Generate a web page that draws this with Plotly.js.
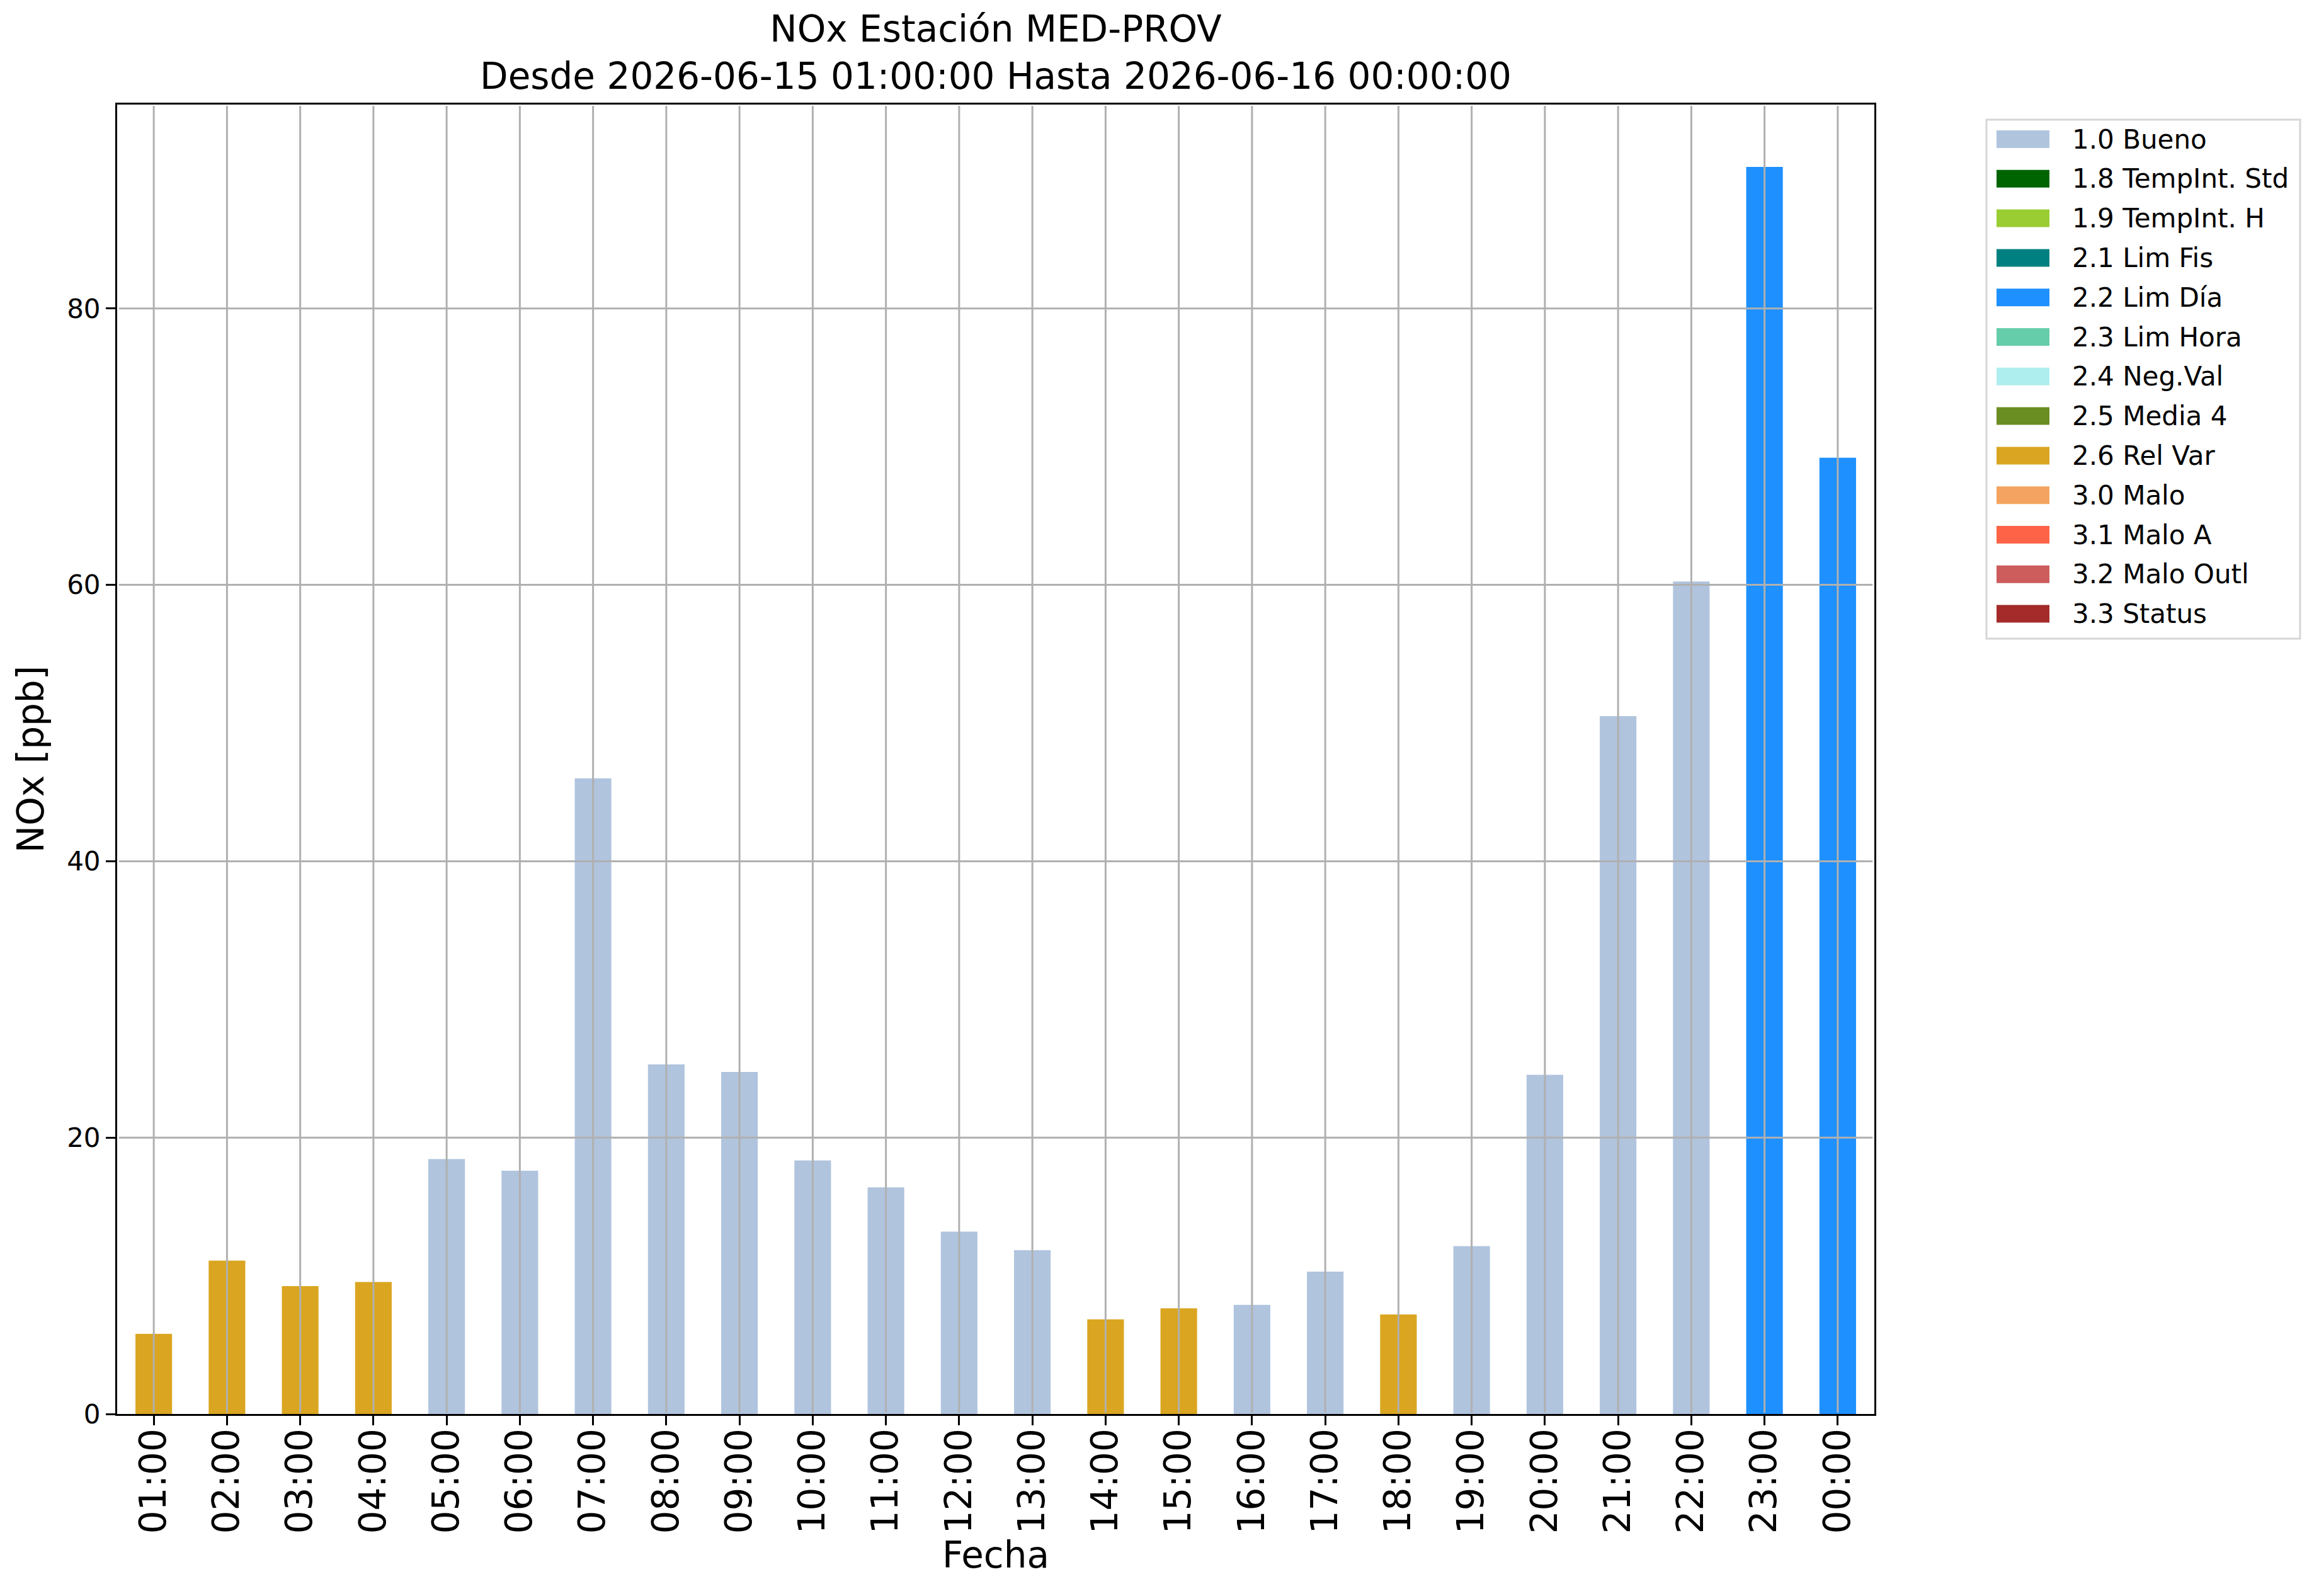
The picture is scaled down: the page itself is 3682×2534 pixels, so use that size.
<!DOCTYPE html>
<html>
<head>
<meta charset="utf-8">
<script src="https://cdn.plot.ly/plotly-3.0.1.min.js"></script>
<style>
  html, body { margin: 0; padding: 0; background: #ffffff; }
  #chart { width: 3682px; height: 2534px; }
</style>
</head>
<body>
<div id="chart"></div>
<script>
// hourly NOx values, 2026-06-15 01:00 .. 2026-06-16 00:00
const hours = ['01:00', '02:00', '03:00', '04:00', '05:00', '06:00', '07:00', '08:00',
               '09:00', '10:00', '11:00', '12:00', '13:00', '14:00', '15:00', '16:00',
               '17:00', '18:00', '19:00', '20:00', '21:00', '22:00', '23:00', '00:00'];
const noxValues = [5.8, 11.1, 9.25, 9.55, 18.45, 17.6, 46.0, 25.3,
                   24.75, 18.35, 16.4, 13.2, 11.85, 6.85, 7.65, 7.9,
                   10.3, 7.2, 12.15, 24.55, 50.5, 60.25, 90.25, 69.2];
const flagCodes = ['2.6', '2.6', '2.6', '2.6', '1.0', '1.0', '1.0', '1.0',
                   '1.0', '1.0', '1.0', '1.0', '1.0', '2.6', '2.6', '1.0',
                   '1.0', '2.6', '1.0', '1.0', '1.0', '1.0', '2.2', '2.2'];

// validation flags (legend)
const flagKeys = ['1.0', '1.8', '1.9', '2.1', '2.2', '2.3', '2.4', '2.5', '2.6', '3.0', '3.1', '3.2', '3.3'];
const flagLabels = ['1.0 Bueno', '1.8 TempInt. Std', '1.9 TempInt. H', '2.1 Lim Fis', '2.2 Lim Día',
                    '2.3 Lim Hora', '2.4 Neg.Val', '2.5 Media 4', '2.6 Rel Var', '3.0 Malo',
                    '3.1 Malo A', '3.2 Malo Outl', '3.3 Status'];
const flagColors = ['#B0C4DE', '#006400', '#9ACD32', '#008080', '#1E90FF', '#66CDAA', '#AFEEEE',
                    '#6B8E23', '#DAA520', '#F4A460', '#FF6347', '#CD5C5C', '#A52A2A'];

const yTicks = [0, 20, 40, 60, 80];

// plot box in page pixels
const W = 3682, H = 2534;
const plotL = 186, plotR = 2976, plotT = 166, plotB = 2245;
const pw = plotR - plotL, ph = plotB - plotT;
const px = v => (v - plotL) / pw;
const py = v => (plotB - v) / ph;

const FONT = 'DejaVu Sans';
const GRID = '#b0b0b0';

// one bar trace per flag
const traces = flagKeys.map((key, i) => ({
    type: 'bar',
    name: flagLabels[i],
    x: hours,
    y: noxValues.map((v, j) => flagCodes[j] === key ? v : null),
    width: 0.5,
    marker: { color: flagColors[i], line: { width: 0 } },
    showlegend: false,
    hoverinfo: 'x+y'
}));

// grid drawn over the bars, like matplotlib
const shapes = [];
hours.forEach(h => {
    shapes.push({
        type: 'line', layer: 'above', xref: 'x', yref: 'paper',
        x0: h, x1: h, y0: 0.001, y1: 0.999,
        line: { color: GRID, width: 3 }
    });
});
yTicks.filter(t => t > 0).forEach(t => {
    shapes.push({
        type: 'line', layer: 'above', xref: 'paper', yref: 'y',
        x0: 0.001, x1: 0.999, y0: t, y1: t,
        line: { color: GRID, width: 3 }
    });
});

// legend box
const legX0 = 3154, legX1 = 3652, legY0 = 190, legY1 = 1014;
const rowTop = 221, rowStep = 62.8;
shapes.push({
    type: 'rect', layer: 'above', xref: 'paper', yref: 'paper',
    x0: px(legX0), x1: px(legX1), y0: py(legY1), y1: py(legY0),
    fillcolor: '#ffffff', line: { color: '#d6d6d6', width: 3 }
});
const annotations = [];
flagLabels.forEach((label, i) => {
    const cy = rowTop + i * rowStep;
    shapes.push({
        type: 'rect', layer: 'above', xref: 'paper', yref: 'paper',
        x0: px(3170), x1: px(3254), y0: py(cy + 14), y1: py(cy - 14),
        fillcolor: flagColors[i], line: { width: 0 }
    });
    annotations.push({
        xref: 'paper', yref: 'paper', x: px(3288), y: py(cy),
        xanchor: 'left', yanchor: 'middle', showarrow: false,
        text: label, font: { family: FONT, size: 42, color: '#000000' }
    });
});

const layout = {
    width: W,
    height: H,
    margin: { l: plotL, r: W - plotR, t: plotT, b: H - plotB, pad: 0 },
    paper_bgcolor: '#ffffff',
    plot_bgcolor: '#ffffff',
    font: { family: FONT, color: '#000000' },
    showlegend: false,
    barmode: 'overlay',
    title: {
        text: 'NOx Estación MED-PROV<br>Desde 2026-06-15 01:00:00 Hasta 2026-06-16 00:00:00',
        font: { family: FONT, size: 58, color: '#000000' },
        xref: 'paper', x: 0.5, xanchor: 'center',
        yref: 'container', y: 1 - 66 / H, yanchor: 'top'
    },
    xaxis: {
        type: 'category',
        categoryorder: 'array',
        categoryarray: hours,
        range: [-0.5, hours.length - 0.5],
        tickangle: -90,
        tickfont: { family: FONT, size: 58, color: '#000000' },
        ticks: 'outside', ticklen: 15, tickwidth: 3, tickcolor: '#000000',
        ticklabelstandoff: -18,
        showgrid: false, zeroline: false,
        showline: true, linecolor: '#000000', linewidth: 3, mirror: true,
        title: { text: 'Fecha', font: { family: FONT, size: 58, color: '#000000' }, standoff: 12 },
        automargin: false
    },
    yaxis: {
        range: [0, 94.76],
        tickvals: yTicks,
        ticktext: yTicks.map(String),
        tickfont: { family: FONT, size: 42, color: '#000000' },
        ticks: 'outside', ticklen: 15, tickwidth: 3, tickcolor: '#000000',
        showgrid: false, zeroline: false,
        showline: true, linecolor: '#000000', linewidth: 3, mirror: true,
        title: { text: 'NOx [ppb]', font: { family: FONT, size: 58, color: '#000000' }, standoff: 18 },
        automargin: false
    },
    shapes: shapes,
    annotations: annotations
};

Plotly.newPlot('chart', traces, layout, { displayModeBar: false, staticPlot: true });
</script>
</body>
</html>
